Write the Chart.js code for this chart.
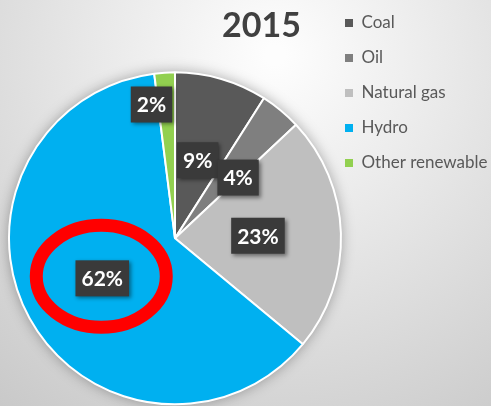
<!DOCTYPE html>
<html>
<head>
<meta charset="utf-8">
<script src="https://cdn.jsdelivr.net/npm/chart.js@4.4.1/dist/chart.umd.min.js"></script>
<style>
  html, body { margin: 0; padding: 0; background: #e4e4e4; }
  canvas { display: block; }
</style>
</head>
<body>
<canvas id="energyChart" width="491" height="406"></canvas>
<script>
// Electricity mix, 2015
const chartTitle = '2015';
const sources = ['Coal', 'Oil', 'Natural gas', 'Hydro', 'Other renewable'];
const shares = [9, 4, 23, 62, 2];
const sliceColors = ['#595959', '#7f7f7f', '#bfbfbf', '#00b0f0', '#92d050'];
const circledSource = 'Hydro';

const FONT = 'Lato';

// grey radial backdrop and the soft shadow under the pie
const backdrop = {
  id: 'backdrop',
  beforeDraw(chart) {
    const { ctx, width, height } = chart;
    const g = ctx.createRadialGradient(275, 55, 10, 275, 55, 470);
    g.addColorStop(0, '#fdfdfd');
    g.addColorStop(1, '#c6c6c6');
    ctx.save();
    ctx.fillStyle = g;
    ctx.fillRect(0, 0, width, height);
    ctx.restore();
  },
  beforeDatasetsDraw(chart) {
    const arc = chart.getDatasetMeta(0).data[0];
    if (!arc) return;
    const ctx = chart.ctx;
    ctx.save();
    ctx.shadowColor = 'rgba(0,0,0,0.35)';
    ctx.shadowBlur = 14;
    ctx.fillStyle = '#ffffff';
    ctx.beginPath();
    ctx.arc(arc.x, arc.y, arc.outerRadius, 0, Math.PI * 2);
    ctx.fill();
    ctx.restore();
  }
};

// title sits a little right of the canvas centre
const titleNudge = {
  id: 'titleNudge',
  afterLayout(chart) {
    const t = chart.titleBlock;
    if (t) { t.left += 12; t.right += 12; }
  }
};

// dark percentage boxes + red ring
const sliceLabels = {
  id: 'sliceLabels',
  afterDatasetsDraw(chart, args, opts) {
    const ctx = chart.ctx;
    const arcs = chart.getDatasetMeta(0).data;
    const values = chart.data.datasets[0].data;
    const spots = arcs.map((arc, i) => {
      const mid = (arc.startAngle + arc.endAngle) / 2;
      const r = arc.outerRadius * opts.radius[i];
      return {
        x: arc.x + Math.cos(mid) * r + opts.shift[i][0],
        y: arc.y + Math.sin(mid) * r + opts.shift[i][1]
      };
    });

    ctx.save();
    const k = chart.data.labels.indexOf(opts.ring.label);
    if (k >= 0) {
      ctx.strokeStyle = opts.ring.color;
      ctx.lineWidth = opts.ring.width;
      ctx.beginPath();
      ctx.ellipse(spots[k].x - 1, spots[k].y - 2, opts.ring.rx, opts.ring.ry, 0, 0, Math.PI * 2);
      ctx.stroke();
    }

    ctx.font = 'bold 21px ' + FONT;
    ctx.textAlign = 'center';
    ctx.textBaseline = 'middle';
    spots.forEach((p, i) => {
      const text = values[i] + '%';
      const w = ctx.measureText(text).width + 12;
      const h = 36;
      ctx.save();
      ctx.shadowColor = 'rgba(0,0,0,0.45)';
      ctx.shadowBlur = 4;
      ctx.shadowOffsetX = 2;
      ctx.shadowOffsetY = 2;
      ctx.fillStyle = '#3a3a3a';
      ctx.fillRect(p.x - w / 2, p.y - h / 2, w, h);
      ctx.restore();
      ctx.fillStyle = '#ffffff';
      ctx.fillText(text, p.x, p.y + 1);
    });
    ctx.restore();
  }
};

const ctx = document.getElementById('energyChart').getContext('2d');
const energyChart = new Chart(ctx, {
  type: 'pie',
  data: {
    labels: sources,
    datasets: [{
      data: shares,
      backgroundColor: sliceColors,
      borderColor: '#ffffff',
      borderWidth: 2
    }]
  },
  options: {
    responsive: false,
    animation: false,
    layout: { padding: { top: 11.5, left: 8, right: 0, bottom: 0 } },
    plugins: {
      title: {
        display: true,
        text: chartTitle,
        color: '#404040',
        font: { family: FONT, size: 34, weight: 'bold', lineHeight: 0.8 },
        padding: { top: 1, bottom: 31 }
      },
      legend: {
        position: 'right',
        align: 'start',
        maxWidth: 149,
        labels: {
          boxWidth: 8,
          boxHeight: 8,
          padding: 3,
          color: '#595959',
          font: { family: FONT, size: 17, lineHeight: 1.882 },
          generateLabels(chart) {
            const base = Chart.overrides.pie.plugins.legend.labels.generateLabels(chart);
            return base.map(item => ({ ...item, text: [item.text], lineWidth: 0 }));
          }
        }
      },
      tooltip: { enabled: false },
      sliceLabels: {
        radius: [0.49, 0.53, 0.5, 0.5, 0.82],
        shift: [[0, 0], [7, 7], [0, 0], [0, 0], [-15, 2]],
        ring: { label: circledSource, color: '#ff0000', width: 13, rx: 65, ry: 51 }
      }
    }
  },
  plugins: [backdrop, titleNudge, sliceLabels]
});
</script>
</body>
</html>
